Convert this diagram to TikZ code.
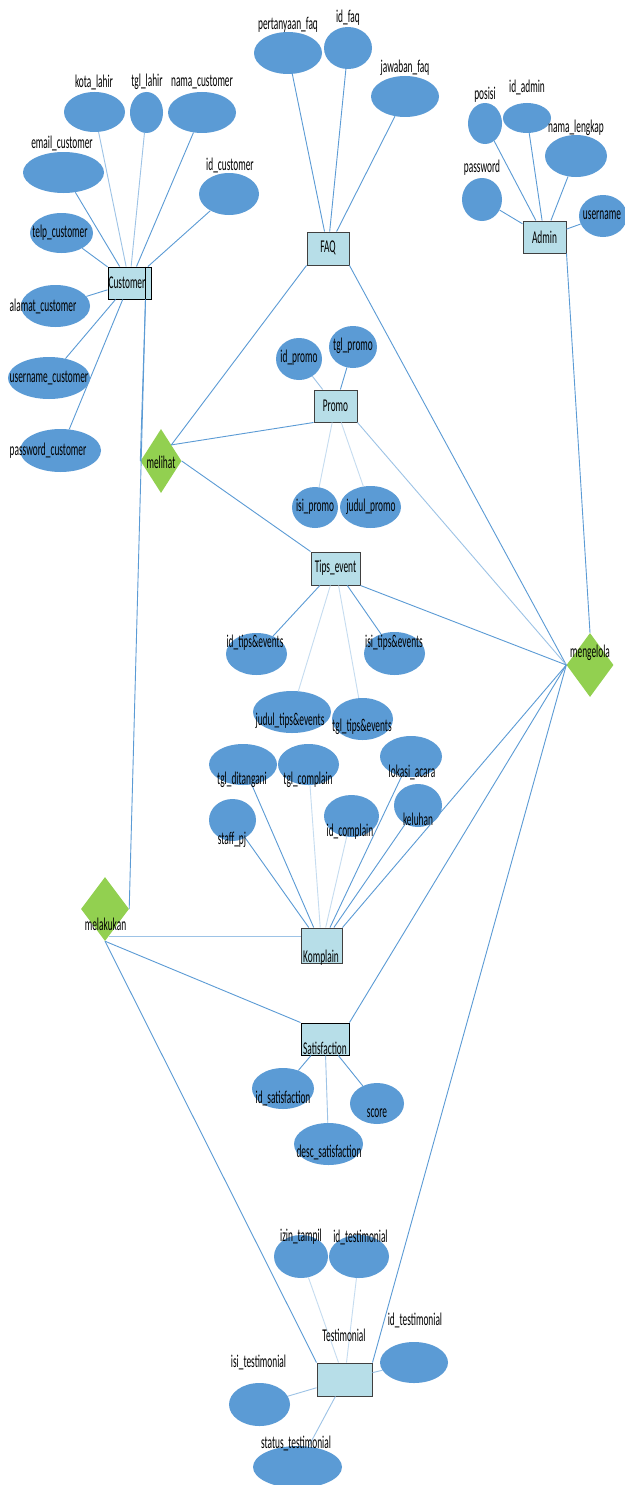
\documentclass[tikz,border=0pt]{standalone}
\usepackage{fontspec}
\setmainfont{Carlito}[FakeStretch=0.52]
\usetikzlibrary{shapes.geometric,calc}
\definecolor{ellc}{HTML}{5B9BD5}
\definecolor{boxc}{HTML}{B7DEE8}
\definecolor{diac}{HTML}{92D050}
\definecolor{lnc}{HTML}{5B9BD5}
\definecolor{lnl}{HTML}{9DC3E6}
\definecolor{lnp}{HTML}{C5DCF0}
\definecolor{boxd}{HTML}{404040}
\tikzset{
  attr/.style n args={2}{ellipse, fill=ellc, minimum width=#1pt, minimum height=#2pt, inner sep=0pt},
  ent/.style n args={2}{rectangle, draw=black, line width=1pt, fill=boxc, minimum width=#1pt, minimum height=#2pt, inner sep=0pt},
  entg/.style n args={2}{ent={#1}{#2}, draw=boxd},
  rel/.style n args={2}{diamond, fill=diac, minimum width=#1pt, minimum height=#2pt, inner sep=0pt, aspect=0.73},
  lbl/.style={inner sep=0pt, text=black, font=\fontsize{18pt}{20pt}\selectfont},
  rl/.style={draw=lnc, line width=0.9pt},
  rll/.style={draw=lnl, line width=0.9pt},
  rlp/.style={draw=lnp, line width=0.9pt},
}
\begin{document}
\begin{tikzpicture}[x=1pt,y=-1pt]
\useasboundingbox (0,0) rectangle (624,1485);
\fill[white] (0,0) rectangle (624,1485);
% ---------- entities ----------
\node[ent={43}{32}] (cust) at (129.5,283) {};
\node[entg={42}{33}] (faq) at (328,248.5) {};
\node[entg={43}{32}] (adm) at (544.5,237) {};
\node[entg={43}{32}] (pro) at (335.5,406) {};
\node[entg={49}{33}] (tips) at (335.5,568.5) {};
\node[entg={41}{35}] (kom) at (321.5,945.5) {};
\node[ent={48}{32}] (sat) at (325,1039) {};
\node[entg={55}{33}] (tes) at (344.5,1379.5) {};
% ---------- relations ----------
\node[rel={41}{64}] (mlh) at (161,461) {};
\node[rel={48}{64}] (mlk) at (105,909) {};
\node[rel={47}{64}] (mgl) at (590,665) {};
% ---------- attributes ----------
\node[attr={61}{40}] (kota) at (94.5,112) {};
\node[attr={33}{41}] (tgll) at (146.5,112.5) {};
\node[attr={68}{41}] (nama) at (202,112.5) {};
\node[attr={81}{41}] (email) at (63.5,172.5) {};
\node[attr={60}{42}] (idc) at (229,194) {};
\node[attr={63}{40}] (telp) at (61.5,233) {};
\node[attr={69}{42}] (alamat) at (55.5,306) {};
\node[attr={82}{42}] (uname) at (49,378) {};
\node[attr={81}{43}] (pass) at (60.5,450.5) {};
\node[attr={68}{42}] (pfaq) at (288,53) {};
\node[attr={48}{42}] (idfaq) at (348,48) {};
\node[attr={68}{41}] (jfaq) at (405,96.5) {};
\node[attr={34}{41}] (posisi) at (485,123.5) {};
\node[attr={48}{30}] (ida) at (527,118) {};
\node[attr={62}{42}] (nl) at (576,156) {};
\node[attr={40}{43}] (apw) at (482,199.5) {};
\node[attr={48}{42}] (aun) at (603,216) {};
\node[attr={46}{42}] (idp) at (299,359) {};
\node[attr={48}{42}] (tglp) at (353,347) {};
\node[attr={46}{41}] (isip) at (315,507.5) {};
\node[attr={61}{42}] (judp) at (370.5,507) {};
\node[attr={61}{42}] (idt) at (256.5,654) {};
\node[attr={61}{43}] (isit) at (394.5,653.5) {};
\node[attr={78}{42}] (judt) at (292,712) {};
\node[attr={61}{42}] (tglt) at (362.5,719) {};
\node[attr={68}{41}] (tdit) at (243,764.5) {};
\node[attr={61}{41}] (tcom) at (308.5,764.5) {};
\node[attr={62}{41}] (lok) at (411,756.5) {};
\node[attr={47}{42}] (stf) at (232.5,820) {};
\node[attr={55}{42}] (idk) at (351.5,816) {};
\node[attr={48}{43}] (kel) at (418,805.5) {};
\node[attr={62}{41}] (ids) at (283,1088.5) {};
\node[attr={54}{41}] (score) at (377,1103.5) {};
\node[attr={69}{42}] (desc) at (328.5,1144) {};
\node[attr={54}{43}] (izin) at (301,1256.5) {};
\node[attr={60}{43}] (idtt) at (359,1256.5) {};
\node[attr={68}{41}] (idtr) at (414,1362.5) {};
\node[attr={61}{43}] (isitm) at (259.5,1404.5) {};
\node[attr={89}{42}] (stat) at (297.5,1467) {};
% ---------- attribute connectors ----------
\draw[rll] (kota) -- (cust);
\draw[rll] (tgll) -- (cust);
\draw[rl] (nama) -- (cust);
\draw[rl] (email) -- (cust);
\draw[rl] (idc) -- (cust);
\draw[rl] (telp) -- (cust);
\draw[rl] (alamat) -- (cust);
\draw[rl] (uname) -- (cust);
\draw[rl] (pass) -- (cust);
\draw[rl] (pfaq) -- (faq);
\draw[rl] (idfaq) -- (faq);
\draw[rl] (jfaq) -- (faq);
\draw[rl] (posisi) -- (adm);
\draw[rl] (ida) -- (adm);
\draw[rl] (nl) -- (adm);
\draw[rl] (apw) -- (adm);
\draw[rl] (aun) -- (adm);
\draw[rll] (idp) -- (pro);
\draw[rl] (tglp) -- (pro);
\draw[rlp] (isip) -- (pro);
\draw[rlp] (judp) -- (pro);
\draw[rl] (idt) -- (tips);
\draw[rl] (isit) -- (tips);
\draw[rlp] (judt) -- (tips);
\draw[rlp] (tglt) -- (tips);
\draw[rl] (tdit) -- (kom);
\draw[rlp] (tcom) -- (kom);
\draw[rl] (lok) -- (kom);
\draw[rl] (stf) -- (kom);
\draw[rlp] (idk) -- (kom);
\draw[rl] (kel) -- (kom);
\draw[rl] (ids) -- (sat);
\draw[rll] (desc) -- (sat);
\draw[rl] (score) -- (sat);
\draw[rlp] (izin) -- (tes);
\draw[rlp] (idtt) -- (tes);
\draw[rll] (idtr) -- (tes);
\draw[rll] (isitm) -- (tes);
\draw[rll] (stat) -- (tes);
% ---------- relation connectors ----------
\coordinate (cst) at ($(cust.south east)+(-6,0)$);
\coordinate (cnt) at ($(cust.north east)+(-6,0)$);
\draw[black, line width=1pt] (cnt) -- (cst);
\draw[rl] (cst) -- (mlh.west);
\draw[rl] (cst) -- (mlk.east);
\draw[rl] (mlh.north east) -- (faq.south west);
\draw[rl] (mlh.north east) -- (pro.south west);
\draw[rl] (mlh.east) -- (tips.north west);
\draw[rl] (faq.south east) -- (mgl.west);
\draw[rll] (pro.south east) -- (mgl.west);
\draw[rl] (tips.south east) -- (mgl.west);
\draw[rl] (kom.north east) -- (mgl.west);
\draw[rl] (sat.north east) -- (mgl.west);
\draw[rl] (tes.north east) -- (mgl.west);
\draw[rl] (adm.south east) -- (mgl.north);
\coordinate (mlkp) at (109,936);
\draw[rll] (mlkp) -- (kom.west |- mlkp);
\draw[rl] (mlk.south) -- (sat.north west);
\draw[rl] (mlk.south) -- (tes.north west);
% ---------- labels ----------
\node[lbl] (t-cust) at (127,283) {Customer};
\node[lbl] (t-faq) at (328,248) {FAQ};
\node[lbl] (t-adm) at (544.5,237) {Admin};
\node[lbl] (t-pro) at (335.5,406) {Promo};
\node[lbl] (t-tips) at (335.5,568) {Tips\_event};
\node[lbl] (t-kom) at (321,958) {Komplain};
\node[lbl] (t-sat) at (325,1048) {Satisfaction};
\node[lbl] (t-tes) at (344,1335) {Testimonial};
\node[lbl] (t-mlh) at (161,462) {melihat};
\node[lbl] (t-mlk) at (105.5,924) {melakukan};
\node[lbl] (t-mgl) at (590,653) {mengelola};
\node[lbl] (t-kota) at (94,82) {kota\_lahir};
\node[lbl] (t-tgll) at (147,82) {tgl\_lahir};
\node[lbl] (t-nama) at (202,82) {nama\_customer};
\node[lbl] (t-email) at (62,143) {email\_customer};
\node[lbl] (t-idc) at (230,165) {id\_customer};
\node[lbl] (t-telp) at (60,233) {telp\_customer};
\node[lbl] (t-alamat) at (43,306) {alamat\_customer};
\node[lbl] (t-uname) at (49,378) {username\_customer};
\node[lbl] (t-pass) at (48,451) {password\_customer};
\node[lbl] (t-pfaq) at (288,25) {pertanyaan\_faq};
\node[lbl] (t-idfaq) at (348,18) {id\_faq};
\node[lbl] (t-jfaq) at (405,68) {jawaban\_faq};
\node[lbl] (t-posisi) at (485,95) {posisi};
\node[lbl] (t-ida) at (527,87) {id\_admin};
\node[lbl] (t-nl) at (576,128) {nama\_lengkap};
\node[lbl] (t-apw) at (482,168) {password};
\node[lbl] (t-aun) at (602,215) {username};
\node[lbl] (t-idp) at (299,358) {id\_promo};
\node[lbl] (t-tglp) at (353,346) {tgl\_promo};
\node[lbl] (t-isip) at (315,507) {isi\_promo};
\node[lbl] (t-judp) at (371,507) {judul\_promo};
\node[lbl] (t-idt) at (255,643) {id\_tips\&events};
\node[lbl] (t-isit) at (394,643) {isi\_tips\&events};
\node[lbl] (t-judt) at (290,721) {judul\_tips\&events};
\node[lbl] (t-tglt) at (362,727) {tgl\_tips\&events};
\node[lbl] (t-tdit) at (242,780) {tgl\_ditangani};
\node[lbl] (t-tcom) at (308,780) {tgl\_complain};
\node[lbl] (t-lok) at (412,772) {lokasi\_acara};
\node[lbl] (t-stf) at (232,840) {staff\_pj};
\node[lbl] (t-idk) at (350,832) {id\_complain};
\node[lbl] (t-kel) at (418,819) {keluhan};
\node[lbl] (t-ids) at (283,1098) {id\_satisfaction};
\node[lbl] (t-score) at (377,1113) {score};
\node[lbl] (t-desc) at (329,1152) {desc\_satisfaction};
\node[lbl] (t-izin) at (301,1237) {izin\_tampil};
\node[lbl] (t-idtt) at (360.5,1237) {id\_testimonial};
\node[lbl] (t-idtr) at (415,1320) {id\_testimonial};
\node[lbl] (t-isitm) at (258.5,1362) {isi\_testimonial};
\node[lbl] (t-stat) at (296,1443) {status\_testimonial};
\end{tikzpicture}
\end{document}
